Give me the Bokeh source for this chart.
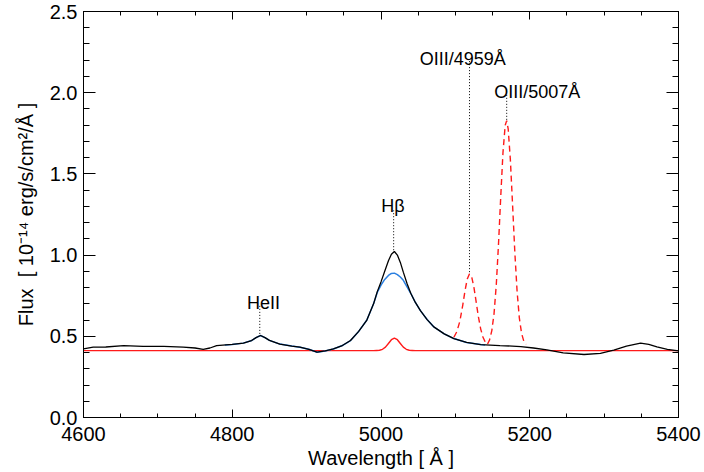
from bokeh.plotting import figure
from bokeh.models import (ColumnDataSource, Range1d, LinearAxis, SingleIntervalTicker,
                          NumeralTickFormatter, CustomJSTickFormatter)
from bokeh.core.properties import value
from bokeh.embed import file_html
from bokeh.resources import INLINE

# ---------------- data ----------------
# total observed spectrum (black)
wl_total = [4600, 4613, 4630, 4654, 4680, 4708, 4734, 4750, 4761, 4770, 4779, 4800,
            4815, 4826, 4832, 4838, 4844, 4850, 4864, 4880, 4891, 4903, 4914, 4925,
            4936, 4948, 4959, 4970, 4981, 4990, 4995, 5000, 5005, 5010, 5014, 5018,
            5022, 5026, 5030, 5035, 5040, 5046, 5053, 5062, 5071, 5085, 5098, 5115,
            5134, 5160, 5188, 5205, 5223, 5245, 5273, 5295, 5313, 5330, 5349, 5360,
            5371, 5385, 5400]
flux_total = [0.423, 0.433, 0.434, 0.442, 0.438, 0.438, 0.433, 0.428, 0.420, 0.428, 0.442, 0.450,
              0.458, 0.474, 0.492, 0.505, 0.492, 0.475, 0.452, 0.440, 0.433, 0.420, 0.402, 0.410,
              0.422, 0.443, 0.474, 0.530, 0.600, 0.700, 0.775, 0.835, 0.900, 0.965, 1.005, 1.022,
              1.000, 0.955, 0.895, 0.825, 0.765, 0.710, 0.658, 0.603, 0.558, 0.515, 0.486, 0.462,
              0.449, 0.443, 0.437, 0.428, 0.417, 0.398, 0.388, 0.395, 0.415, 0.440, 0.458, 0.450,
              0.435, 0.420, 0.410]

# broad H-beta component + continuum (blue)
wl_broad = [4790, 4800, 4815, 4826, 4832, 4838, 4844, 4850, 4864, 4880, 4891, 4903,
            4914, 4925, 4936, 4948, 4959, 4970, 4981, 4990, 4995, 5000, 5005, 5010,
            5014, 5018, 5022, 5026, 5030, 5035, 5040, 5046, 5053, 5062, 5071, 5085,
            5098, 5115, 5134, 5140]
flux_broad = [0.446, 0.450, 0.458, 0.474, 0.492, 0.505, 0.492, 0.475, 0.452, 0.440, 0.433, 0.420,
              0.402, 0.410, 0.422, 0.443, 0.474, 0.530, 0.600, 0.700, 0.770, 0.815, 0.850, 0.875,
              0.887, 0.889, 0.880, 0.865, 0.845, 0.805, 0.765, 0.710, 0.658, 0.603, 0.558, 0.515,
              0.486, 0.462, 0.449, 0.447]

# continuum + narrow H-beta (red solid)
wl_narrow = [4600, 4990, 4994, 4998, 5002, 5006, 5010, 5014, 5018, 5022, 5026, 5030,
             5034, 5038, 5042, 5046, 5400]
flux_narrow = [0.412, 0.412, 0.413, 0.414, 0.420, 0.433, 0.456, 0.479, 0.489, 0.479, 0.456, 0.433,
               0.420, 0.414, 0.413, 0.412, 0.412]

# [OIII] 4959/5007 model (red dashed)
wl_oiii = [5098, 5102, 5106, 5110, 5113, 5116, 5119, 5122, 5125, 5128, 5131, 5134,
           5137, 5140, 5143, 5146, 5149, 5152, 5155, 5158, 5161, 5164, 5167, 5169,
           5171, 5174, 5177, 5180, 5183, 5186, 5189, 5192, 5195]
flux_oiii = [0.494, 0.529, 0.592, 0.694, 0.782, 0.853, 0.885, 0.865, 0.800, 0.710, 0.619, 0.546,
             0.496, 0.466, 0.450, 0.478, 0.535, 0.640, 0.817, 1.068, 1.360, 1.631, 1.800, 1.828,
             1.778, 1.582, 1.301, 1.012, 0.776, 0.613, 0.518, 0.470, 0.450]

# line identifications
line_names = ["HeII", "H\u03b2", "OIII/4959\u00c5", "OIII/5007\u00c5"]
line_wl = [4837, 5017, 5119, 5169]
line_peak = [0.515, 1.030, 0.895, 1.833]
line_top = [0.700, 1.275, 2.198, 1.993]
label_x = [4842, 5016, 5110, 5210]
label_y = [0.705, 1.300, 2.210, 2.005]

x_ticks_interval = 200
y_ticks_interval = 0.5

# ---------------- figure ----------------
FONT = "Liberation Sans"

p = figure(frame_width=595, frame_height=406,
           x_range=Range1d(4600, 5400), y_range=Range1d(0, 2.5),
           output_backend="svg", toolbar_location=None,
           min_border_left=83, min_border_right=26, min_border_top=11, min_border_bottom=55,
           x_axis_location=None, y_axis_location=None)
p.xgrid.visible = False
p.ygrid.visible = False
p.outline_line_color = "black"
p.outline_line_width = 1
p.background_fill_color = "white"
p.border_fill_color = "white"


def make_axis(kind, show_labels, major_in, minor_in):
    if kind == "x":
        ticker = SingleIntervalTicker(interval=x_ticks_interval, num_minor_ticks=4)
        fmt = None
    else:
        ticker = SingleIntervalTicker(interval=y_ticks_interval, num_minor_ticks=5)
        fmt = NumeralTickFormatter(format="0.0")
    if not show_labels:
        fmt = CustomJSTickFormatter(code="return '';")
    ax = LinearAxis(ticker=ticker) if fmt is None else LinearAxis(ticker=ticker, formatter=fmt)
    ax.axis_line_color = "black"
    ax.major_tick_line_color = "black"
    ax.minor_tick_line_color = "black"
    ax.major_tick_in = major_in
    ax.major_tick_out = 0
    ax.minor_tick_in = minor_in
    ax.minor_tick_out = 0
    ax.major_label_text_font = FONT
    ax.major_label_text_color = "black"
    ax.axis_label_text_font = FONT
    ax.axis_label_text_font_style = "normal"
    ax.axis_label_text_color = "black"
    if show_labels:
        ax.major_label_text_font_size = "20px"
        ax.axis_label_text_font_size = "20px"
    else:
        ax.major_label_text_font_size = "2px"
        ax.major_label_standoff = 0
    return ax


xb = make_axis("x", True, 8, 4)
xb.axis_label = "Wavelength [ \u00c5 ]"
xb.major_label_standoff = 9
xb.axis_label_standoff = 3
p.add_layout(xb, "below")

yl = make_axis("y", True, 12, 6)
yl.axis_label = "Flux\u00a0\u00a0[ 10\u207b\u00b9\u2074 erg/s/cm\u00b2/\u00c5 ]"
yl.major_label_standoff = 6
yl.axis_label_standoff = 10
p.add_layout(yl, "left")

xa = make_axis("x", False, 8, 4)
p.add_layout(xa, "above")
yr = make_axis("y", False, 12, 6)
p.add_layout(yr, "right")

# ---------------- glyphs ----------------
src_total = ColumnDataSource(dict(x=wl_total, y=flux_total))
src_broad = ColumnDataSource(dict(x=wl_broad, y=flux_broad))
src_narrow = ColumnDataSource(dict(x=wl_narrow, y=flux_narrow))
src_oiii = ColumnDataSource(dict(x=wl_oiii, y=flux_oiii))

p.line("x", "y", source=src_narrow, line_color="#ff1a1a", line_width=1.4)
p.line("x", "y", source=src_broad, line_color="#2a7fe0", line_width=1.5)
p.line("x", "y", source=src_total, line_color="black", line_width=1.3)
p.line("x", "y", source=src_oiii, line_color="#ff1a1a", line_width=1.4, line_dash="6 4")

# dotted markers for line identifications
p.segment(x0=line_wl, y0=line_peak, x1=line_wl, y1=line_top,
          line_color="black", line_width=1, line_dash="1 2")

src_lab = ColumnDataSource(dict(x=label_x, y=label_y, t=line_names))
p.text("x", "y", text="t", source=src_lab, text_font=value(FONT),
       text_font_size="18px", text_align="center", text_baseline="alphabetic",
       text_color="black")

open("out.html", "w").write(file_html(p, INLINE))
